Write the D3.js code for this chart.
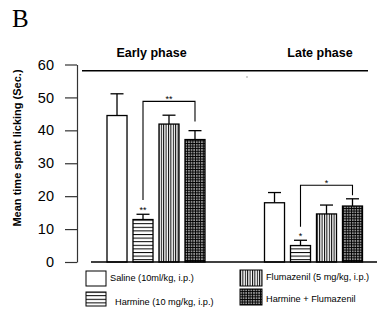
<!DOCTYPE html>
<html>
<head>
<meta charset="utf-8">
<script src="https://cdn.jsdelivr.net/npm/d3@7"></script>
<style>
  html, body { margin: 0; padding: 0; background: #fff; }
  svg { display: block; }
</style>
</head>
<body>
<div id="chart"></div>
<script>
// data
const phases = ["Early phase", "Late phase"];
const treatments = ["Saline", "Harmine", "Flumazenil", "Harmine + Flumazenil"];
const legendLabels = ["Saline (10ml/kg, i.p.)", "Harmine (10 mg/kg, i.p.)", "Flumazenil (5 mg/kg, i.p.)", "Harmine + Flumazenil"];
const earlyMeans = [44.5, 12.9, 41.9, 37.2];
const earlyErr = [6.6, 1.6, 2.7, 2.7];
const lateMeans = [18.0, 5.0, 14.6, 17.0];
const lateErr = [3.1, 1.6, 2.7, 2.2];
const yTicks = [0, 10, 20, 30, 40, 50, 60];
// significance brackets: from bar a to bar b, level + leg ends in data units
const brackets = [
  { phase: "Early phase", a: 1, b: 3, level: 48.8, legA: 18.8, legB: 42.7, label: "**" },
  { phase: "Late phase", a: 1, b: 3, level: 23.3, legA: 10.7, legB: 20.3, label: "*" }
];
const barStars = [
  { phase: "Early phase", i: 1, label: "**" },
  { phase: "Late phase", i: 1, label: "*" }
];

const width = 377, height = 309;
const fills = ["#fff", "url(#p-hor)", "url(#p-ver)", "url(#p-grid)"];

const svg = d3.select("#chart").append("svg")
    .attr("width", width)
    .attr("height", height)
    .style("font-family", "Arial, 'Liberation Sans', sans-serif");

// patterns
const defs = svg.append("defs");
const ph = defs.append("pattern").attr("id", "p-hor").attr("patternUnits", "userSpaceOnUse")
    .attr("width", 4).attr("height", 3.6);
ph.append("rect").attr("width", 4).attr("height", 3.6).attr("fill", "#fff");
ph.append("rect").attr("y", 0).attr("width", 4).attr("height", 1).attr("fill", "#000");

const pv = defs.append("pattern").attr("id", "p-ver").attr("patternUnits", "userSpaceOnUse")
    .attr("width", 2.4).attr("height", 4);
pv.append("rect").attr("width", 2.4).attr("height", 4).attr("fill", "#fff");
pv.append("rect").attr("x", 0).attr("width", 1).attr("height", 4).attr("fill", "#000");

const pg = defs.append("pattern").attr("id", "p-grid").attr("patternUnits", "userSpaceOnUse")
    .attr("width", 2.6).attr("height", 2.6);
pg.append("rect").attr("width", 2.6).attr("height", 2.6).attr("fill", "#000");
pg.append("rect").attr("x", 1.1).attr("y", 1.1).attr("width", 1.3).attr("height", 1.3).attr("fill", "#fff");

// scales
const y = d3.scaleLinear().domain([0, 60]).range([262, 64.5]);
const x0 = d3.scalePoint().domain(phases).range([156, 313.5]);
const x1 = d3.scaleBand().domain(treatments).range([-49, 49]).paddingInner(0.23).paddingOuter(0);
const bw = x1.bandwidth();

const rows = [];
phases.forEach((p, pi) => {
  const means = pi === 0 ? earlyMeans : lateMeans;
  const errs = pi === 0 ? earlyErr : lateErr;
  treatments.forEach((t, i) => rows.push({ phase: p, t, i, mean: means[i], err: errs[i] }));
});
const bx = (p, i) => x0(p) + x1(treatments[i]);

// "B"
svg.append("text")
    .attr("x", 12).attr("y", 27)
    .style("font-family", "'Liberation Serif', 'Times New Roman', serif")
    .style("font-size", "25px")
    .text("B");

// y axis
const yAxis = svg.append("g")
    .attr("transform", "translate(77,0)")
    .call(d3.axisLeft(y).tickValues(yTicks).tickSize(12).tickSizeOuter(0).tickPadding(11));
yAxis.select(".domain").attr("stroke", "#333").attr("stroke-width", 1.2);
yAxis.selectAll(".tick line").attr("stroke", "#333").attr("stroke-width", 1.2);
yAxis.selectAll(".tick text")
    .style("font-size", "14.5px")
    .style("font-family", "Arial, 'Liberation Sans', sans-serif")
    .attr("fill", "#000");

svg.append("text")
    .attr("transform", "translate(20.5,148) rotate(-90)")
    .attr("text-anchor", "middle")
    .style("font-size", "11px")
    .style("font-weight", "bold")
    .text("Mean time spent licking (Sec.)");

// phase header line + labels
svg.append("line")
    .attr("x1", 82).attr("x2", 368)
    .attr("y1", 70.7).attr("y2", 70.7)
    .attr("stroke", "#000").attr("stroke-width", 1.5);
const phaseLabelDx = [-4.5, 6.5];
svg.selectAll(".phase-label")
  .data(phases)
  .join("text")
    .attr("class", "phase-label")
    .attr("x", (d, i) => x0(d) + phaseLabelDx[i])
    .attr("y", 57)
    .attr("text-anchor", "middle")
    .style("font-size", "12.5px")
    .style("font-weight", "bold")
    .text(d => d);
svg.append("rect").attr("x", 246.5).attr("y", 76.5).attr("width", 1).attr("height", 1).attr("fill", "#444");

// error bars (upper only)
const eb = svg.append("g").attr("stroke", "#000").attr("stroke-width", 1.3);
eb.selectAll(".stem")
  .data(rows)
  .join("line")
    .attr("x1", d => bx(d.phase, d.i) + bw / 2)
    .attr("x2", d => bx(d.phase, d.i) + bw / 2)
    .attr("y1", d => y(d.mean))
    .attr("y2", d => y(d.mean + d.err));
eb.selectAll(".cap")
  .data(rows)
  .join("line")
    .attr("x1", d => bx(d.phase, d.i) + bw / 2 - 6.5)
    .attr("x2", d => bx(d.phase, d.i) + bw / 2 + 6.5)
    .attr("y1", d => y(d.mean + d.err))
    .attr("y2", d => y(d.mean + d.err));

// bars
svg.append("g")
  .selectAll("rect")
  .data(rows)
  .join("rect")
    .attr("x", d => bx(d.phase, d.i))
    .attr("y", d => y(d.mean))
    .attr("width", bw)
    .attr("height", d => y(0) - y(d.mean))
    .attr("fill", d => fills[d.i])
    .attr("stroke", "#000")
    .attr("stroke-width", 1.3);

// x baseline
svg.append("line")
    .attr("x1", 91).attr("x2", width)
    .attr("y1", y(0)).attr("y2", y(0))
    .attr("stroke", "#000").attr("stroke-width", 1.5);

// significance brackets
const sg = svg.append("g");
brackets.forEach(b => {
  const xa = bx(b.phase, b.a) + bw / 2;
  const xb = bx(b.phase, b.b) + bw / 2;
  sg.append("path")
      .attr("d", `M${xa},${y(b.legA)}V${y(b.level)}H${xb}V${y(b.legB)}`)
      .attr("fill", "none")
      .attr("stroke", "#000")
      .attr("stroke-width", 1.1);
  sg.append("text")
      .attr("x", (xa + xb) / 2)
      .attr("y", y(b.level) + 1)
      .attr("text-anchor", "middle")
      .style("font-size", "9px")
      .text(b.label);
});
barStars.forEach(s => {
  const r = rows.find(d => d.phase === s.phase && d.i === s.i);
  sg.append("text")
      .attr("x", bx(s.phase, s.i) + bw / 2)
      .attr("y", y(r.mean + r.err) - 1)
      .attr("text-anchor", "middle")
      .style("font-size", "9px")
      .text(s.label);
});

// legend
const legendPos = [
  { x: 86, y: 271, w: 20, h: 15, tx: 110, ty: 278 },
  { x: 86, y: 292, w: 20, h: 14, tx: 115, ty: 302 },
  { x: 240, y: 270, w: 22, h: 16, tx: 266, ty: 277 },
  { x: 240, y: 289, w: 22, h: 16, tx: 266, ty: 298.5 }
];
const lg = svg.append("g").selectAll("g")
  .data(legendLabels)
  .join("g");
lg.append("rect")
    .attr("x", (d, i) => legendPos[i].x)
    .attr("y", (d, i) => legendPos[i].y)
    .attr("width", (d, i) => legendPos[i].w)
    .attr("height", (d, i) => legendPos[i].h)
    .attr("fill", (d, i) => fills[i])
    .attr("stroke", "#000")
    .attr("stroke-width", 1);
lg.append("text")
    .attr("x", (d, i) => legendPos[i].tx)
    .attr("y", (d, i) => legendPos[i].ty)
    .attr("dy", "0.35em")
    .style("font-size", "9.2px")
    .text(d => d);
</script>
</body>
</html>
